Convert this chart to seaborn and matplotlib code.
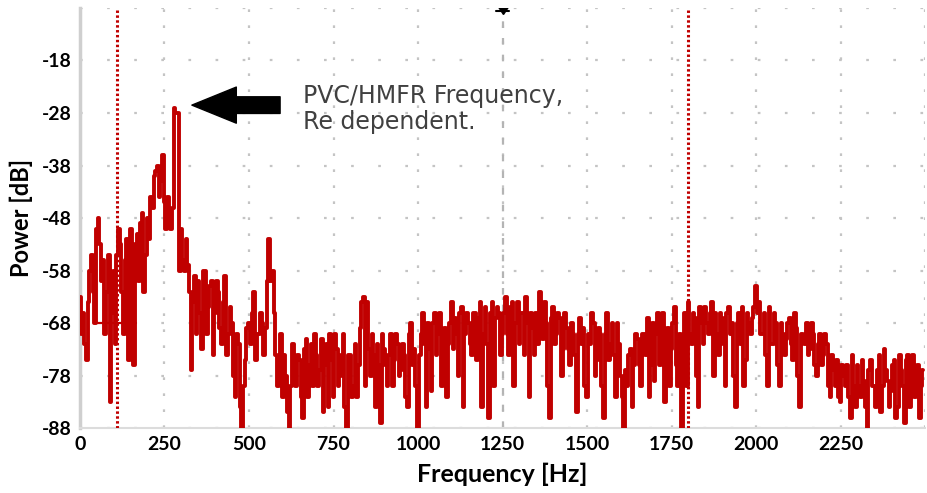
import numpy as np
import pandas as pd
import matplotlib.pyplot as plt
import seaborn as sns

# spectrum: bins on the 10 Hz marks (0, 10, 20 ... Hz)
power_db = [
    -63, -66, -75, -58, -62, -50, -53, -56, -62, -83,
    -58, -55, -53, -70, -52, -50, -76, -51, -49, -62,
    -48, -44, -40, -38, -41, -45, -44, -50, -27, -28,
    -50, -58, -57, -77, -59, -60, -73, -58, -65, -60,
    -66, -62, -72, -59, -70, -68, -82, -72, -88, -75,
    -68, -66, -75, -70, -68, -69, -52, -58, -74, -76,
    -82, -78, -88, -72, -80, -75, -86, -71, -76, -80,
    -74, -77, -85, -72, -70, -82, -73, -78, -70, -88,
    -74, -80, -82, -69, -63, -64, -78, -74, -72, -87,
    -73, -80, -70, -75, -72, -77, -74, -84, -68, -73,
    -88, -70, -72, -68, -81, -66, -70, -80, -69, -72,
    -64, -67, -78, -65, -70, -68, -74, -66, -67, -84,
    -65, -86, -64, -67, -66, -70, -63, -74, -64, -68,
    -72, -66, -63, -82, -69, -66, -62, -71, -68, -86,
    -65, -70, -67, -73, -69, -76, -70, -85, -67, -69,
    -82, -72, -68, -75, -70, -86, -66, -72, -74, -68,
    -78, -88, -80, -73, -76, -71, -80, -70, -67, -76,
    -79, -66, -71, -83, -69, -73, -65, -80, -88, -66,
    -64, -72, -67, -84, -68, -65, -70, -64, -66, -74,
    -67, -80, -65, -68, -84, -66, -65, -75, -68, -67,
    -61, -64, -70, -74, -65, -72, -68, -80, -70, -71,
    -67, -75, -69, -84, -71, -68, -73, -70, -78, -70,
    -74, -72, -82, -77, -75, -83, -78, -76, -86, -80,
    -76, -82, -79, -88, -75, -80, -77, -85, -73, -79,
    -81, -75, -84, -77, -87, -74, -79, -82, -76, -80,
]
# the bins in between (5, 15, 25 ... Hz)
power_db_mid = [
    -70, -72, -64, -55, -68, -48, -60, -70, -55, -66,
    -72, -50, -62, -56, -75, -58, -53, -60, -47, -55,
    -52, -46, -39, -44, -36, -50, -47, -46, -28, -58,
    -56, -52, -62, -64, -70, -66, -58, -70, -61, -74,
    -60, -69, -64, -74, -65, -78, -70, -84, -80, -69,
    -72, -62, -70, -66, -74, -60, -60, -66, -80, -70,
    -74, -85, -80, -78, -74, -82, -73, -82, -72, -70,
    -80, -71, -76, -84, -75, -70, -80, -74, -84, -74,
    -82, -72, -76, -64, -80, -73, -70, -84, -76, -70,
    -76, -74, -80, -70, -78, -72, -82, -70, -76, -80,
    -74, -66, -84, -73, -68, -74, -66, -72, -82, -68,
    -73, -70, -66, -84, -66, -72, -66, -75, -64, -70,
    -72, -66, -80, -65, -74, -66, -70, -65, -80, -64,
    -66, -74, -68, -66, -74, -72, -68, -64, -80, -67,
    -72, -66, -78, -66, -73, -68, -74, -70, -72, -80,
    -70, -66, -78, -69, -80, -70, -75, -68, -82, -72,
    -82, -77, -74, -84, -70, -76, -70, -74, -82, -68,
    -70, -76, -66, -72, -80, -68, -76, -70, -72, -80,
    -70, -66, -78, -65, -72, -68, -66, -78, -70, -66,
    -72, -66, -70, -78, -68, -72, -80, -66, -70, -65,
    -66, -70, -66, -80, -72, -66, -76, -68, -74, -68,
    -72, -66, -78, -70, -72, -74, -68, -76, -72, -76,
    -70, -80, -74, -80, -82, -76, -80, -82, -74, -84,
    -80, -75, -84, -77, -80, -84, -74, -80, -77, -84,
    -76, -86, -74, -80, -75, -84, -74, -77, -86, -77,
]
bin_width_hz = 10
freq_hz = np.arange(len(power_db)) * bin_width_hz
freq_mid_hz = freq_hz + bin_width_hz / 2

# markers in the chart
cursor_lines_hz = [110, 1800]
level_band_hz = [40, 165]
level_db = -68
top_cursor_hz = 1250
peak_hz, peak_db = 331, -26.5
arrow_tail_hz = 592
note_text = "PVC/HMFR Frequency,\nRe dependent."

x_ticks = [0, 250, 500, 750, 1000, 1250, 1500, 1750, 2000, 2250]
y_ticks = [-88, -78, -68, -58, -48, -38, -28, -18]

red = "#c00000"
grid_grey = "#c4c4c4"

sns.set_style("white")
plt.rcParams["font.family"] = ["Lato", "DejaVu Sans"]
plt.rcParams["axes.unicode_minus"] = False

df = pd.concat([
    pd.DataFrame({"freq": freq_hz, "power": power_db}),
    pd.DataFrame({"freq": freq_mid_hz, "power": power_db_mid}),
]).sort_values("freq")

fig = plt.figure(figsize=(9.28, 4.93), dpi=100)
ax = fig.add_axes([0.0862, 0.1318, 0.9106, 0.852])

# grid: faint dotted lines every 250 Hz / 10 dB
for xv in range(0, 2501, 250):
    ax.axvline(xv, color=grid_grey, lw=1.6, ls=(0, (1.2, 6)), zorder=0)
for yv in range(-88, -7, 10):
    ax.axhline(yv, color=grid_grey, lw=1.6, ls=(0, (1.2, 11)), zorder=0)
ax.axvline(top_cursor_hz, color="#b4b4b4", lw=1.6, ls=(0, (3, 4.5)), zorder=0)

sns.lineplot(data=df, x="freq", y="power", ax=ax, color=red, lw=2.8,
             drawstyle="steps-mid", estimator=None, zorder=3)
ax.plot(level_band_hz, [level_db, level_db], color=red, lw=1.6, zorder=3)

for xv in cursor_lines_hz:
    ax.axvline(xv, color=red, lw=2.2, ls=(0, (0.8, 0.8)), zorder=4)

ax.plot([top_cursor_hz], [-9.2], marker=7, color="black", ms=9, zorder=5)
ax.plot([top_cursor_hz - 18, top_cursor_hz + 18], [-8.6, -8.6], color="black", lw=1.5, zorder=5)

ax.annotate("", xy=(peak_hz, peak_db), xytext=(arrow_tail_hz, peak_db),
            arrowprops=dict(arrowstyle="simple,head_length=1.6,head_width=1.3,tail_width=0.6",
                            fc="black", ec="black", mutation_scale=20,
                            shrinkA=0, shrinkB=0), zorder=6)
ax.text(660, -22.4, note_text, fontsize=17, color="#404040", va="top", ha="left",
        family=["DejaVu Sans"], linespacing=1.15)

ax.set_xlim(0, 2500)
ax.set_ylim(-88, -8)
ax.set_xticks(x_ticks)
ax.set_yticks(y_ticks)
ax.set_yticks(np.arange(-88, -7, 2), minor=True)
ax.tick_params(axis="both", which="major", length=0, labelsize=14, pad=6, labelcolor="black")
ax.tick_params(axis="y", which="minor", direction="in", length=5, width=1.5, color=grid_grey)
for lab in ax.get_xticklabels() + ax.get_yticklabels():
    lab.set_fontweight("bold")

ax.set_xlabel("Frequency [Hz]", fontsize=18, fontweight="bold", labelpad=7, color="black")
ax.set_ylabel("Power [dB]", fontsize=17, fontweight="bold", labelpad=6, color="black")

for side in ["top", "right"]:
    ax.spines[side].set_visible(False)
ax.spines["left"].set_color("#cfcfcf")
ax.spines["left"].set_linewidth(2.5)
ax.spines["bottom"].set_color("#dcdcdc")
ax.spines["bottom"].set_linewidth(1.5)

fig.savefig("out.png", dpi=100)
